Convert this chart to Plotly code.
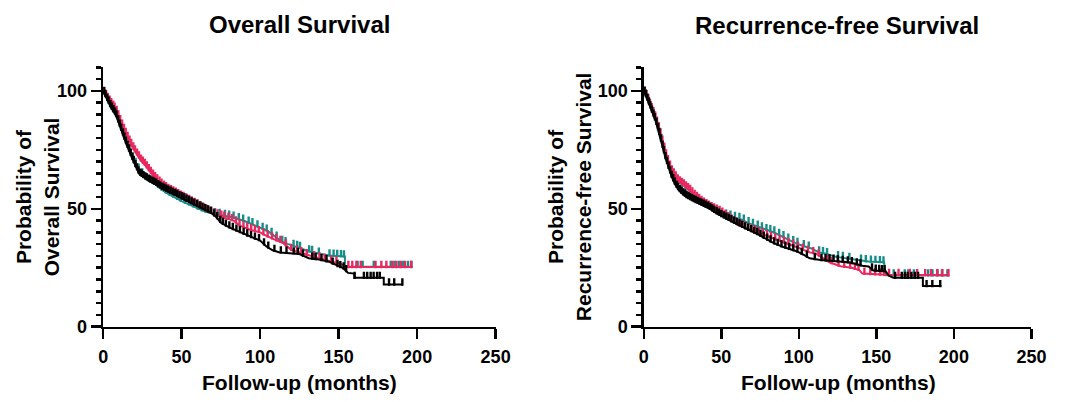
import numpy as np
import plotly.graph_objects as go

# ---------------- DATA ----------------
x_ticks = [0, 50, 100, 150, 200, 250]
y_ticks = [0, 50, 100]

# Overall survival - step points (months, % surviving)
os_teal_t = [0, 2, 5, 8.3, 11, 14.6, 18.75, 22.9, 27, 33.3,
             37.5, 41.7, 50, 55, 60.4, 65, 70, 75, 83, 90,
             95, 100, 105, 109, 114, 118, 125, 131, 137.5, 144,
             154, 154, 197]
os_teal_s = [100, 97, 93, 89.5, 84.5, 78, 71.5, 66.2, 62.8, 60.3,
             58, 56.2, 53.2, 51.8, 50, 48.8, 47.9, 47.3, 46.3, 44.8,
             43.5, 42, 40.5, 38.5, 36, 35, 33.5, 32, 31, 30.2,
             29.8, 25.4, 25.4]
os_pink_t = [0, 2, 5, 8.3, 11, 14.6, 17.5, 20.8, 24, 27,
             30, 33.3, 37.5, 41.7, 46, 50, 55, 60.4, 65, 70.8,
             77, 83, 87.5, 94, 100, 104, 109, 114.6, 120, 125,
             131, 137.5, 145.8, 150, 155, 197]
os_pink_s = [100, 97.5, 94.5, 91.6, 87, 81.4, 77.5, 73.8, 70.5, 68.3,
             65.5, 62.8, 60, 58, 56.5, 55, 53.2, 51.3, 49.5, 47.6,
             46.3, 45, 42.7, 41, 40, 38.5, 37, 35.5, 32.5, 31.5,
             30, 29, 27.5, 27, 25.3, 25.3]
os_black_t = [0, 2, 5, 8.3, 11, 14.6, 18.75, 21, 23, 25,
              27, 30, 33.3, 37.5, 41.7, 46, 50, 55, 60.4, 64,
              68.75, 72, 75, 80, 87.5, 94, 100, 104, 108, 112.5,
              118, 125, 131, 137.5, 144, 150, 153, 156, 160, 160,
              178.75, 178.75, 191]
os_black_s = [100, 97, 93, 89.6, 84.5, 77.9, 71, 67.5, 64.8, 63.8,
              62.8, 61.6, 60.4, 58.6, 57.2, 55.8, 54.5, 52.8, 51, 49.8,
              48.3, 46.5, 44.1, 42.2, 40, 38, 36.5, 34, 32.4, 31.5,
              31.3, 30.8, 29, 28.5, 27.5, 25.5, 24.8, 22.8, 22.5, 20.7,
              20.7, 17.9, 17.9]

# Recurrence-free survival - step points
rfs_teal_t = [0, 2, 4, 7.8, 10, 12, 14, 16.2, 18, 20.5,
              22.5, 24.7, 28, 33.1, 37, 41.6, 46, 50, 55, 62.7,
              68, 73.2, 78, 84, 90, 98.5, 104, 108, 113, 117,
              124, 128, 135, 145, 155, 156, 197]
rfs_teal_s = [100, 97, 93.5, 87.5, 82.5, 77.5, 72.5, 68, 64.5, 61.5,
              59.8, 58.6, 56.5, 53.8, 52, 50.5, 49, 47.6, 46.8, 45.5,
              43.8, 42.5, 41.2, 40, 38, 35.2, 34, 33.2, 31.5, 31,
              29.6, 29.2, 28.5, 27.6, 27.3, 21.8, 21.8]
rfs_pink_t = [0, 2, 4, 7.8, 10, 12, 14, 16.2, 18, 20.5,
              22.5, 24.7, 26.8, 30, 33.1, 37, 41.6, 46, 50, 55,
              60, 66, 73, 79, 84, 90, 98.5, 103, 107, 111,
              116, 120, 127, 134, 139, 141, 156, 197]
rfs_pink_s = [100, 97.5, 94, 88, 83.5, 78.5, 73.5, 69, 66, 63.4,
              61.5, 60.5, 59.3, 57.5, 55.2, 53, 51, 49.5, 48.3, 45.8,
              43.4, 41.8, 40, 38.5, 37.2, 35.8, 33.8, 32.5, 31.5, 31,
              29, 27.2, 25.6, 25, 24, 22.5, 22, 21.8]
rfs_black_t = [0, 2, 4, 7.8, 10, 12, 14, 16.2, 18, 20.5,
               22.5, 24.7, 28, 33.1, 37, 41.6, 46, 50, 55, 60.5,
               65, 70, 73.2, 78, 83.8, 90, 98.5, 103, 107, 114,
               122, 128, 133, 141, 145, 148, 156, 158, 161, 180,
               180, 192]
rfs_black_s = [100, 97, 93.5, 86.9, 82, 76.6, 71.5, 67, 63.5, 60,
               58, 56.5, 54.8, 53, 51.8, 50.4, 48.5, 46.9, 45.2, 43.4,
               41.8, 40.3, 39.3, 37.5, 35.4, 33.8, 32, 30.5, 29, 28.3,
               28, 27.5, 27.2, 25.8, 25.5, 23.8, 23.5, 21.6, 20.7, 20.7,
               17.2, 17.2]

# Censor times (months)
os_teal_c = [1.2, 3.1, 4.4, 6.3, 8.1, 9.6, 11.4, 13.2, 15.1, 16.8, 18.9, 20.7,
             22.6, 24.9, 27.3, 29.8, 32.2, 34.9, 37.1, 39.8, 42.3, 44.6, 47.2,
             49.5, 52.1, 54.8, 57.3, 60.2, 62.9, 65.4, 68.1, 71.3, 74.2, 77.6,
             80.3, 83.1, 86.4, 89.2, 92.7, 95.1, 98.3, 101.6, 104.2, 107.3,
             110.5, 114.1, 116.2, 121.3, 123.6, 125.4, 131.2, 133.1, 137.4,
             144.2, 146.8, 149.1, 151.5, 153.4, 162.1, 165.3, 172.4, 183.2,
             185.6, 188.4, 191.1, 194.2, 196.4]
os_pink_c = [0.8, 1.9, 2.9, 4.1, 5.2, 6.4, 7.3, 8.6, 9.7, 10.9, 12.1, 13.3,
             14.4, 15.6, 16.8, 17.9, 19.2, 20.3, 21.6, 22.8, 24.1, 25.3, 26.6,
             27.8, 29.1, 30.4, 31.8, 33.1, 34.5, 35.9, 37.2, 38.7, 40.1, 41.6,
             43.2, 44.7, 46.3, 47.9, 49.6, 51.2, 52.9, 54.7, 56.4, 58.2, 60.1,
             62.2, 64.3, 66.1, 68.4, 70.6, 72.9, 75.3, 77.2, 79.8, 82.1, 84.6,
             86.9, 89.4, 91.8, 94.3, 96.7, 99.2, 102.1, 104.8, 107.6, 110.3,
             112.9, 116.4, 119.8, 123.5, 126.2, 129.7, 134.3, 137.8, 141.1,
             145.2, 148.6, 156.2, 158.7, 161.3, 164.1, 173.5, 177.2, 180.4,
             184.3, 186.8, 189.6, 192.3, 196.2]
os_black_c = [0.6, 1.5, 2.6, 3.5, 4.6, 5.5, 6.6, 7.6, 8.5, 9.6, 10.6, 11.5,
              12.6, 13.6, 14.5, 15.6, 16.5, 17.6, 18.6, 19.5, 20.6, 21.6, 22.5,
              23.6, 24.6, 25.7, 26.8, 27.9, 29.1, 30.2, 31.4, 32.6, 33.8, 35.1,
              36.3, 37.6, 38.9, 40.2, 41.5, 42.9, 44.3, 45.7, 47.1, 48.6, 50.1,
              51.6, 53.2, 54.8, 56.4, 58.1, 59.8, 61.5, 63.3, 65.1, 66.9, 68.8,
              70.7, 72.6, 74.6, 76.3, 78.2, 80.4, 82.6, 84.9, 87.1, 89.5, 91.8,
              94.2, 96.7, 99.3, 102.5, 105.2, 109.1, 113.2, 116.8, 121.4, 124.1,
              127.3, 133.2, 135.4, 139.1, 142.3, 146.2, 149.3, 151.1, 153.2,
              154.8, 160.2, 166.1, 168.2, 170.4, 172.3, 174.5, 176.2, 182.1,
              185.4, 190.6]

rfs_teal_c = [1.3, 3.2, 5.1, 7.0, 9.2, 11.3, 13.1, 15.4, 17.6, 19.8, 22.1,
              24.5, 26.9, 29.4, 31.8, 34.3, 36.9, 39.5, 42.2, 44.8, 47.5, 50.3,
              53.1, 55.9, 58.8, 61.7, 64.5, 67.6, 70.4, 73.5, 76.2, 79.1, 81.6,
              84.2, 87.3, 90.1, 93.2, 96.4, 99.1, 103.2, 106.4, 113.1, 115.6,
              118.2, 125.3, 128.4, 132.6, 140.1, 143.2, 146.5, 149.4, 152.3,
              154.6, 161.2, 168.3, 170.6, 174.2, 183.4, 186.2, 189.5, 192.3,
              195.8]
rfs_pink_c = [0.7, 1.8, 2.9, 4.0, 5.1, 6.2, 7.4, 8.5, 9.7, 10.8, 12.0, 13.2,
              14.4, 15.6, 16.9, 18.1, 19.4, 20.6, 21.9, 23.2, 24.5, 25.8, 27.2,
              28.5, 29.9, 31.3, 32.8, 34.2, 35.7, 37.2, 38.8, 40.4, 42.0, 43.7,
              45.4, 47.1, 48.9, 50.7, 52.6, 54.5, 56.5, 58.5, 60.6, 62.8, 65.0,
              67.3, 69.6, 72.0, 74.4, 76.9, 79.5, 82.1, 84.8, 87.6, 90.4, 93.3,
              96.3, 99.4, 102.6, 105.9, 109.3, 112.8, 118.4, 121.2, 125.6,
              129.3, 133.1, 136.2, 138.5, 142.3, 146.1, 149.2, 152.4, 155.1,
              158.2, 164.3, 171.6, 176.3, 181.5, 185.3, 189.2, 192.6, 196.5]
rfs_black_c = [0.5, 1.4, 2.4, 3.4, 4.3, 5.3, 6.3, 7.2, 8.2, 9.2, 10.1, 11.1,
               12.1, 13.0, 14.0, 15.0, 16.0, 17.0, 18.0, 19.0, 20.0, 21.1,
               22.1, 23.2, 24.3, 25.4, 26.5, 27.6, 28.8, 29.9, 31.1, 32.3, 33.5,
               34.8, 36.0, 37.3, 38.6, 39.9, 41.3, 42.7, 44.1, 45.5, 47.0, 48.5,
               50.0, 51.6, 53.2, 54.8, 56.5, 58.2, 59.9, 61.7, 63.5, 65.4, 67.3,
               69.2, 71.2, 73.2, 75.3, 77.4, 79.6, 81.8, 84.1, 86.4, 88.8, 91.3,
               93.8, 96.4, 99.1, 101.9, 105.2, 110.3, 114.6, 117.2, 119.8,
               122.4, 125.1, 128.3, 131.6, 134.2, 137.4, 139.8, 147.2, 149.6,
               151.8, 153.6, 155.3, 162.1, 166.4, 168.5, 170.3, 172.6, 174.8,
               176.9, 182.4, 186.1, 191.2]

TEAL = "#178c88"
PINK = "#e8295f"
BLACK = "#000000"

FONT = "Liberation Sans, Arial, Helvetica, sans-serif"

fig = go.Figure()


def add_group(t, s, c, color, xa, ya):
    fig.add_trace(go.Scatter(x=t, y=s, mode="lines",
                             line=dict(color=color, width=2),
                             xaxis=xa, yaxis=ya, hoverinfo="skip"))
    cy = np.interp(np.array(c), np.array(t), np.array(s))
    n = len(c)
    fig.add_trace(go.Scatter(x=c, y=cy, mode="markers",
                             marker=dict(size=1, color=color),
                             error_y=dict(type="data", symmetric=False,
                                          array=[2.6] * n, arrayminus=[0.5] * n,
                                          width=0, thickness=2.4, color=color),
                             xaxis=xa, yaxis=ya, hoverinfo="skip"))


add_group(os_teal_t, os_teal_s, os_teal_c, TEAL, "x", "y")
add_group(os_pink_t, os_pink_s, os_pink_c, PINK, "x", "y")
add_group(os_black_t, os_black_s, os_black_c, BLACK, "x", "y")
add_group(rfs_teal_t, rfs_teal_s, rfs_teal_c, TEAL, "x2", "y2")
add_group(rfs_pink_t, rfs_pink_s, rfs_pink_c, PINK, "x2", "y2")
add_group(rfs_black_t, rfs_black_s, rfs_black_c, BLACK, "x2", "y2")

W, H = 1067, 402
yd = [(H - 335) / H, (H - 69) / H]

xcommon = dict(range=[0, 250], tickvals=x_ticks, ticks="outside", ticklen=10,
               tickwidth=2.5, tickcolor="black", showline=True, linewidth=2.5,
               linecolor="black", showgrid=False, zeroline=False,
               ticklabelstandoff=2,
               tickfont=dict(family=FONT, size=18, color="black", weight="bold"))
ycommon = dict(range=[0, 110], tickvals=y_ticks, ticks="outside", ticklen=10,
               tickwidth=2.5, tickcolor="black", showline=True, linewidth=2.5,
               linecolor="black", showgrid=False, zeroline=False,
               minor=dict(dtick=5, tick0=0, ticks="outside", ticklen=5,
                          tickwidth=2.5, tickcolor="black", showgrid=False),
               tickfont=dict(family=FONT, size=18, color="black", weight="bold"),
               domain=yd)

fig.update_layout(
    width=W, height=H, margin=dict(l=0, r=0, t=0, b=0),
    paper_bgcolor="white", plot_bgcolor="white", showlegend=False,
    xaxis=dict(domain=[100 / W, 500 / W], anchor="y", **xcommon),
    yaxis=dict(anchor="x", **ycommon),
    xaxis2=dict(domain=[651 / W, 1046 / W], anchor="y2", **xcommon),
    yaxis2=dict(anchor="x2", **ycommon),
)

tf = dict(family=FONT, size=24, color="black", weight="bold")
af = dict(family=FONT, size=21, color="black", weight="bold")


def px(xp):
    return xp / W


def py(yp):
    return (H - yp) / H


annots = [
    dict(text="Overall Survival", x=px(300), y=py(25), font=tf),
    dict(text="Recurrence-free Survival", x=px(848), y=py(26), font=tf),
    dict(text="Follow-up (months)", x=px(300), y=py(392), font=af),
    dict(text="Follow-up (months)", x=px(849), y=py(392), font=af),
    dict(text="Probability of<br>Overall Survival", x=px(33), y=py(202),
         font=af, textangle=-90),
    dict(text="Probability of<br>Recurrence-free Survival", x=px(575), y=py(202),
         font=af, textangle=-90),
]
for a in annots:
    fig.add_annotation(xref="paper", yref="paper", showarrow=False,
                       xanchor="center", yanchor="middle", **a)

fig.write_html("out.html",
               config={"displayModeBar": False, "staticPlot": True},
               post_script="document.body.style.margin='0';"
                           "document.body.style.overflow='hidden';")
